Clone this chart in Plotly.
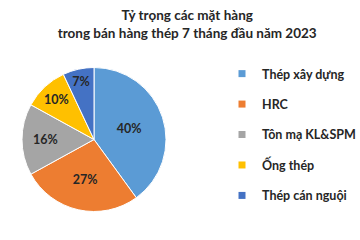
import plotly.graph_objects as go

labels = ["Thép xây dựng", "HRC", "Tôn mạ KL&SPM", "Ống thép", "Thép cán nguội"]
values = [40, 27, 16, 10, 7]
colors = ["#5B9BD5", "#ED7D31", "#A5A5A5", "#FFC000", "#4472C4"]
title_text = "Tỷ trọng các mặt hàng<br>trong bán hàng thép 7 tháng đầu năm 2023"

W, H = 360, 240
fig = go.Figure()
fig.add_trace(go.Pie(
    labels=labels, values=values, sort=False, direction="clockwise", rotation=0,
    marker=dict(colors=colors, line=dict(color="white", width=1)),
    texttemplate="%{percent:.0%}", textposition="inside", insidetextorientation="horizontal",
    textfont=dict(family="Lato", size=12.5, color="#262626", weight="bold"),
    showlegend=False, hoverinfo="label+percent",
    domain=dict(x=[22 / W, 166 / W], y=[1 - 212 / H, 1 - 67 / H]),
))
for lab, col in zip(labels, colors):
    fig.add_trace(go.Scatter(
        x=[None], y=[None], mode="markers", name=lab, legendgroup=lab,
        marker=dict(symbol="square", size=7, color=col),
    ))

fig.update_layout(
    width=W, height=H, margin=dict(l=0, r=0, t=0, b=0, autoexpand=False),
    paper_bgcolor="white", plot_bgcolor="white",
    title=dict(text=title_text, x=0.52, xanchor="center", y=1 - 20 / H, yanchor="top",
               font=dict(family="Lato", size=13.5, color="#262626", weight="bold")),
    xaxis=dict(visible=False), yaxis=dict(visible=False),
    legend=dict(x=222 / W, y=1 - 59 / H, xanchor="left", yanchor="top",
                font=dict(family="Lato", size=12.5, color="#262626", weight="bold"),
                tracegroupgap=11.2, itemwidth=30, bgcolor="rgba(0,0,0,0)"),
)
fig.write_html("out.html")
